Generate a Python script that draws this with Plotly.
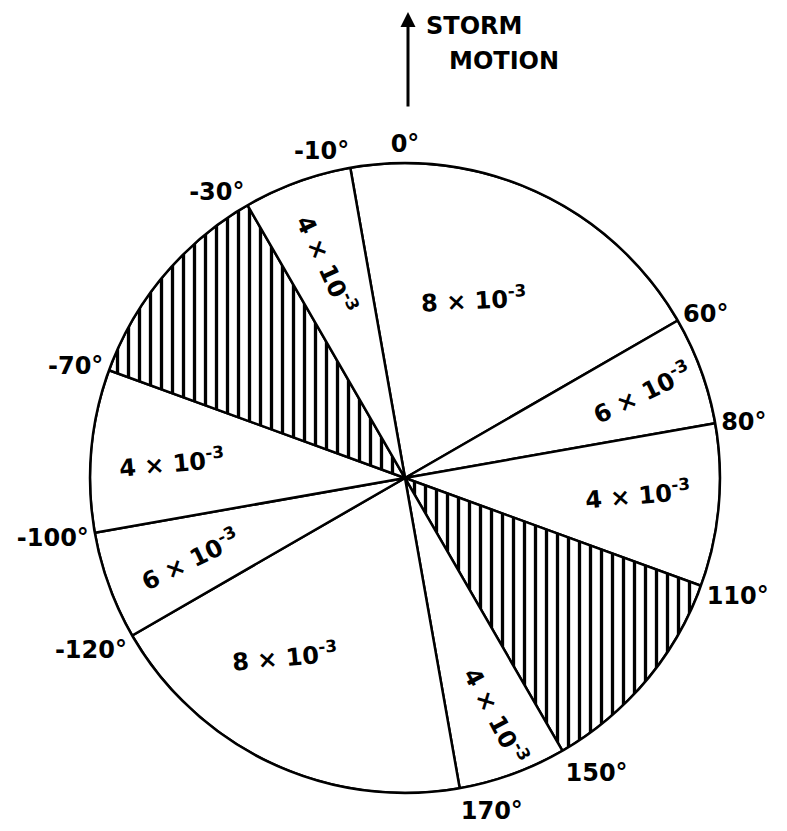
import math
import plotly.graph_objects as go

# sector boundaries in degrees, clockwise from storm motion (north)
bounds = [-10, 60, 80, 110, 150, 170, 240, 260, 290, 330, 350]
values = [8, 6, 4, None, 4, 8, 6, 4, None, 4]   # x 10^-3, None = hatched
hatched = [v is None for v in values]

# label placement inside sectors (radius fraction, angle, text rotation)
label_r = [0.61, 0.80, 0.74, None, 0.81, 0.68, 0.73, 0.74, None, 0.72]
label_theta = [21, 70, 94, None, 159, 214, 249.5, 274, None, 340]
label_rot = [-3, -26, -5, None, 62, -5, -26, -5, None, 65]

tick_vals = [350, 0, 60, 80, 110, 150, 170, 240, 260, 290, 330]
tick_text = ["-10°", "0°", "60°", "80°", "110°", "150°", "170°",
             "-120°", "-100°", "-70°", "-30°"]

W, H = 787, 831
off = 8  # page body margin
dom_x = [(90 - off) / W, (720 - off) / W]
dom_y = [(38 + off) / H, (668 + off) / H]

centers = [(a + b) / 2 for a, b in zip(bounds[:-1], bounds[1:])]
widths = [b - a for a, b in zip(bounds[:-1], bounds[1:])]

fig = go.Figure()
fig.add_trace(go.Barpolar(
    r=[1] * len(centers),
    theta=centers,
    width=widths,
    opacity=1,
    marker=dict(
        color="white",
        opacity=1,
        line=dict(color="black", width=2.5),
        pattern=dict(shape=["|" if h else "" for h in hatched],
                     fgcolor="black", bgcolor="white", fgopacity=1,
                     size=11, solidity=0.3),
    ),
    hoverinfo="skip",
    showlegend=False,
))

font = "DejaVu Sans"
cx = (dom_x[0] + dom_x[1]) / 2 * W
cy = (1 - (dom_y[0] + dom_y[1]) / 2) * H
R = (dom_x[1] - dom_x[0]) / 2 * W

annotations = []
for v, rr, th, rot in zip(values, label_r, label_theta, label_rot):
    if v is None:
        continue
    px = cx + rr * R * math.sin(math.radians(th))
    py = cy - rr * R * math.cos(math.radians(th))
    annotations.append(dict(
        x=px / W, y=1 - py / H, xref="paper", yref="paper",
        xanchor="center", yanchor="middle",
        text=f"<b>{v} × 10<sup>-3</sup></b>", textangle=rot, showarrow=False,
        font=dict(family=font, size=24, color="black"),
    ))

# storm motion arrow
annotations.append(dict(
    x=(408 - off) / W, y=1 - (12 - off) / H, xref="paper", yref="paper",
    ax=0, ay=96, text="", showarrow=True,
    arrowhead=2, arrowsize=1, arrowwidth=3, arrowcolor="black",
))
annotations.append(dict(
    x=(424 - off) / W, y=1 - (26 - off) / H, xref="paper", yref="paper",
    xanchor="left", yanchor="middle", text="<b>STORM</b>", showarrow=False,
    font=dict(family=font, size=24, color="black"),
))
annotations.append(dict(
    x=(447 - off) / W, y=1 - (61 - off) / H, xref="paper", yref="paper",
    xanchor="left", yanchor="middle", text="<b>MOTION</b>", showarrow=False,
    font=dict(family=font, size=24, color="black"),
))

fig.update_layout(
    width=W, height=H,
    margin=dict(l=0, r=0, t=0, b=0),
    paper_bgcolor="white",
    plot_bgcolor="white",
    annotations=annotations,
    polar=dict(
        domain=dict(x=dom_x, y=dom_y),
        bgcolor="white",
        bargap=0,
        radialaxis=dict(visible=False, range=[0, 1]),
        angularaxis=dict(
            direction="clockwise", rotation=90,
            tickmode="array", tickvals=tick_vals, ticktext=tick_text,
            showgrid=False, ticks="", showline=True,
            linecolor="black", linewidth=2.5,
            tickfont=dict(family=font, size=24, color="black", weight="bold"),
        ),
    ),
)

fig.write_html("out.html")
